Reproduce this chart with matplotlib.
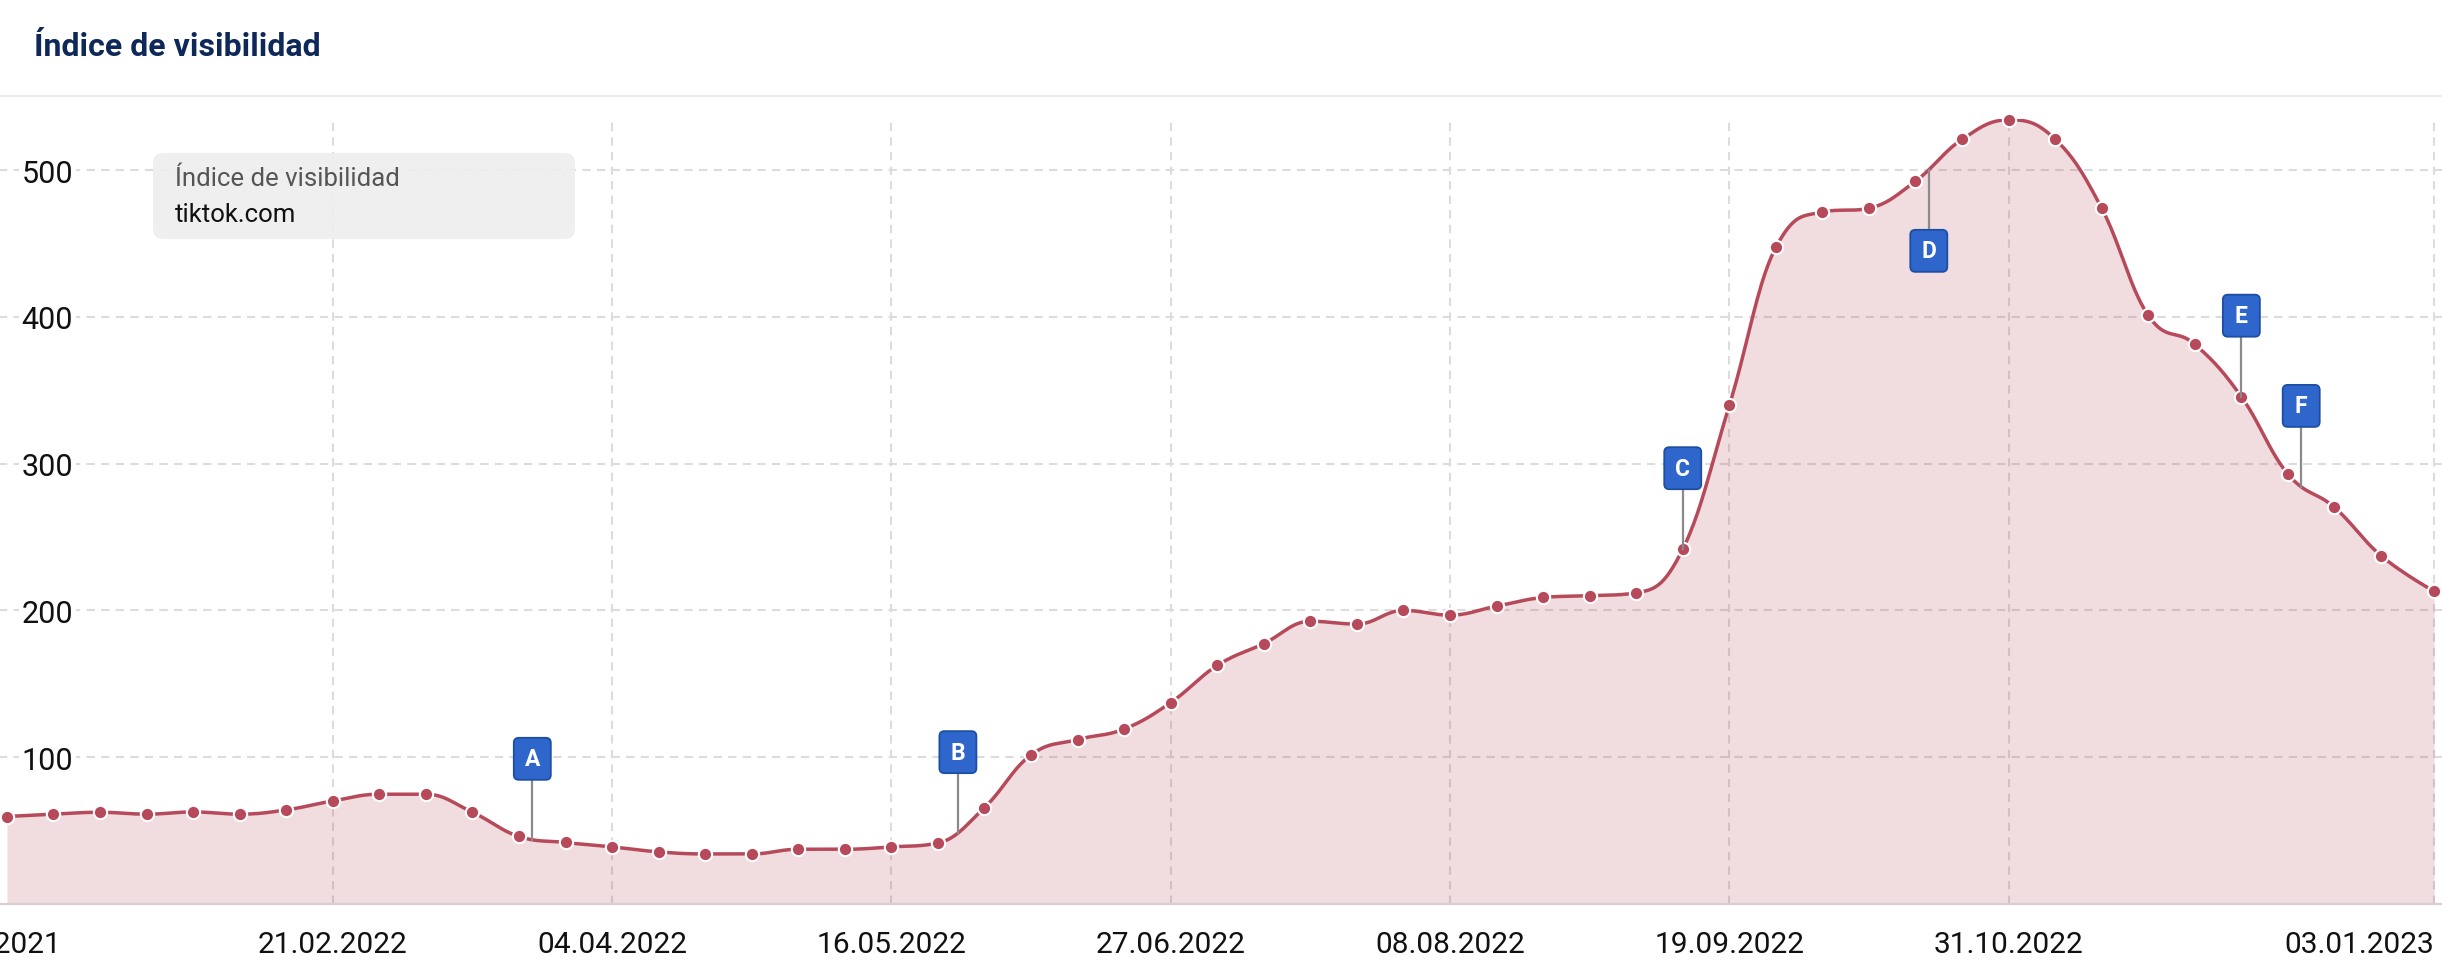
import numpy as np
import matplotlib
matplotlib.use('Agg')
import matplotlib.pyplot as plt
import matplotlib.dates as mdates
from matplotlib.patches import FancyBboxPatch
from matplotlib.lines import Line2D
from matplotlib.transforms import IdentityTransform
from datetime import datetime

plt.rcParams['font.family'] = ['Roboto', 'DejaVu Sans']

# weekly visibility index of tiktok.com
dates = ["03.01.2022", "10.01.2022", "17.01.2022", "24.01.2022", "31.01.2022",
         "07.02.2022", "14.02.2022", "21.02.2022", "28.02.2022",
         "07.03.2022", "14.03.2022", "21.03.2022", "28.03.2022",
         "04.04.2022", "11.04.2022", "18.04.2022", "25.04.2022",
         "02.05.2022", "09.05.2022", "16.05.2022", "23.05.2022", "30.05.2022",
         "06.06.2022", "13.06.2022", "20.06.2022", "27.06.2022",
         "04.07.2022", "11.07.2022", "18.07.2022", "25.07.2022",
         "01.08.2022", "08.08.2022", "15.08.2022", "22.08.2022", "29.08.2022",
         "05.09.2022", "12.09.2022", "19.09.2022", "26.09.2022",
         "03.10.2022", "10.10.2022", "17.10.2022", "24.10.2022", "31.10.2022",
         "07.11.2022", "14.11.2022", "21.11.2022", "28.11.2022",
         "05.12.2022", "12.12.2022", "19.12.2022", "26.12.2022", "03.01.2023"]
values = [59.6, 61.2, 62.5, 61.2, 62.7, 61.2, 64.1, 70.2, 74.8, 74.8,
          62.5, 46.0, 41.9, 38.9, 35.5, 34.1, 34.1, 37.3, 37.3, 38.9,
          41.6, 65.7, 101.6, 112.0, 119.2, 137.2, 162.5, 177.4, 192.6, 190.7,
          200.0, 196.8, 202.9, 208.8, 210.0, 212.0, 241.7, 339.6, 447.3, 471.3,
          474.0, 492.4, 520.9, 534.2, 521.0, 474.0, 401.0, 381.3, 345.6, 292.9,
          270.2, 237.3, 213.0]

# event flags
flag_labels = ["A", "B", "C", "D", "E", "F"]
flag_dates = ["23.03.2022", "26.05.2022", "12.09.2022", "19.10.2022", "05.12.2022", "14.12.2022"]
flag_below = [False, False, False, True, False, False]

tick_dates = ["31.12.2021", "21.02.2022", "04.04.2022", "16.05.2022", "27.06.2022",
              "08.08.2022", "19.09.2022", "31.10.2022", "03.01.2023"]
y_ticks = [100, 200, 300, 400, 500]

LINE = '#b64a5a'
W, H, DPI = 2442, 978, 100


def to_num(s):
    return mdates.date2num(datetime.strptime(s, "%d.%m.%Y"))


def hc_spline(xs, ys, smoothing=1.5, steps=24):
    # same control points as a highcharts spline series
    n = len(xs)
    left = [None] * n
    right = [None] * n
    d = smoothing + 1
    for i in range(1, n - 1):
        px, py = xs[i], ys[i]
        lx, ly = xs[i - 1], ys[i - 1]
        nx, ny = xs[i + 1], ys[i + 1]
        lcx, lcy = (smoothing * px + lx) / d, (smoothing * py + ly) / d
        rcx, rcy = (smoothing * px + nx) / d, (smoothing * py + ny) / d
        if rcx != lcx:
            corr = ((rcy - lcy) * (rcx - px)) / (rcx - lcx) + py - rcy
            lcy += corr
            rcy += corr
        if lcy > ly and lcy > py:
            lcy = max(ly, py); rcy = 2 * py - lcy
        elif lcy < ly and lcy < py:
            lcy = min(ly, py); rcy = 2 * py - lcy
        if rcy > ny and rcy > py:
            rcy = max(ny, py); lcy = 2 * py - rcy
        elif rcy < ny and rcy < py:
            rcy = min(ny, py); lcy = 2 * py - rcy
        left[i] = (lcx, lcy)
        right[i] = (rcx, rcy)
    cx, cy = [xs[0]], [ys[0]]
    t = np.linspace(0, 1, steps)[1:]
    for i in range(1, n):
        p0 = (xs[i - 1], ys[i - 1])
        p1 = right[i - 1] or p0
        p3 = (xs[i], ys[i])
        p2 = left[i] or p3
        for k in range(2):
            b = ((1 - t) ** 3 * p0[k] + 3 * (1 - t) ** 2 * t * p1[k]
                 + 3 * (1 - t) * t ** 2 * p2[k] + t ** 3 * p3[k])
            (cx if k == 0 else cy).extend(b)
    return np.array(cx), np.array(cy)


x = np.array([to_num(s) for s in dates])
y = np.array(values)
cx, cy = hc_spline(x, y)

fig = plt.figure(figsize=(W / DPI, H / DPI), dpi=DPI)
x0 = to_num(tick_dates[0])
px_per_day = 6.65
ax = fig.add_axes([-13 / W, (H - 905) / H, (W + 13) / W, (905 - 120.4) / H])
ax.set_xlim(x0, x0 + (W + 13) / px_per_day)
ax.set_ylim(0, 534.5)

ax.fill_between(cx, cy, 0, color=LINE, alpha=0.19, lw=0, zorder=1)
ax.plot(cx, cy, color=LINE, lw=2.5, zorder=3, solid_capstyle='round')
ax.plot(x, y, 'o', color=LINE, ms=9.6, mec='white', mew=1.5, zorder=4, clip_on=False)

ax.set_axisbelow(True)
ax.grid(True, color='#dcdcdc', lw=1.5, linestyle=(0, (4, 3)))
for s in ['top', 'right', 'left']:
    ax.spines[s].set_visible(False)
ax.spines['bottom'].set_color('#d9ced1')
ax.spines['bottom'].set_linewidth(1.6)

ax.set_xticks([to_num(s) for s in tick_dates])
ax.set_xticklabels(tick_dates)
ax.get_xticklabels()[-1].set_horizontalalignment('right')
ax.set_yticks(y_ticks)
ax.set_yticklabels([str(v) for v in y_ticks])
ax.tick_params(axis='x', length=0, pad=19, labelsize=21.5, labelcolor='#111111')
ax.tick_params(axis='y', length=0, pad=-25, labelsize=22, labelcolor='#111111')
for lbl in ax.get_yticklabels():
    lbl.set_horizontalalignment('left')
    lbl.set_bbox(dict(facecolor='white', edgecolor='none', pad=2))

# header
fig.text(34 / W, 1 - 47 / H, "Índice de visibilidad", fontsize=23, fontweight='bold',
         color='#0d2859', va='center', ha='left')
fig.add_artist(Line2D([0, 1], [1 - 97 / H, 1 - 97 / H], transform=fig.transFigure,
                      color='#ebebeb', lw=1.5))

# legend box
ident = IdentityTransform()
fig.add_artist(FancyBboxPatch((153, H - 240), 422, 86,
                              boxstyle='round,pad=0,rounding_size=10',
                              transform=ident, facecolor='#eeeeee', edgecolor='none',
                              alpha=0.9, zorder=5))
fig.text(175, H - 179, "Índice de visibilidad", transform=ident, fontsize=18.5,
         color='#555555', va='center', ha='left', zorder=6)
fig.text(175, H - 215, "tiktok.com", transform=ident, fontsize=18.5,
         color='#111111', va='center', ha='left', zorder=6)

# flags
bw, bh, stem = 37, 42, 60
for lab, ds, below in zip(flag_labels, flag_dates, flag_below):
    fx = to_num(ds)
    fy = np.interp(fx, cx, cy)
    dx, dy = ax.transData.transform((fx, fy))
    if below:
        top = dy - stem
        bottom = top - bh
        fig.add_artist(Line2D([dx, dx], [dy, top], transform=ident, color='#8a8a8a', lw=1.6, zorder=6))
    else:
        bottom = dy + stem
        fig.add_artist(Line2D([dx, dx], [dy, bottom], transform=ident, color='#8a8a8a', lw=1.6, zorder=6))
    fig.add_artist(FancyBboxPatch((dx - bw / 2, bottom), bw, bh,
                                  boxstyle='round,pad=0,rounding_size=5',
                                  transform=ident, facecolor='#2e66cc', edgecolor='#1d4ea3',
                                  lw=1.3, zorder=7))
    fig.text(dx, bottom + bh / 2, lab, transform=ident, fontsize=16.5, fontweight='bold',
             color='white', ha='center', va='center', zorder=8)

fig.savefig('out.png', dpi=DPI, facecolor='white')
